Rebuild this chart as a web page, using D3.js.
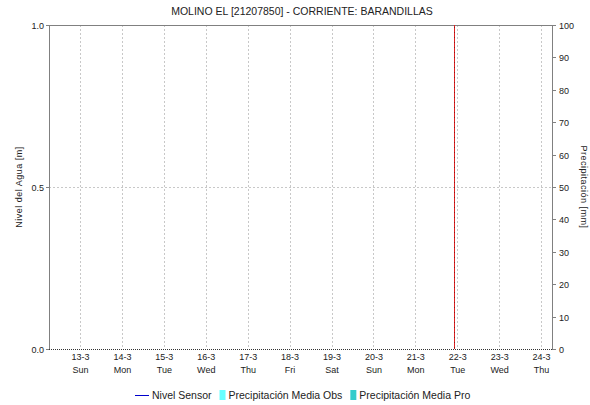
<!DOCTYPE html>
<html><head><meta charset="utf-8">
<script src="https://cdn.jsdelivr.net/npm/d3@7"></script>
<style>
body{margin:0;background:#fff;}
svg{display:block;font-family:"Liberation Sans",Arial,sans-serif;}
</style></head>
<body><svg id="c" width="590" height="405"></svg>
<script>
const title = "MOLINO EL [21207850] - CORRIENTE: BARANDILLAS";
const dayLabels = ["13-3","14-3","15-3","16-3","17-3","18-3","19-3","20-3","21-3","22-3","23-3","24-3"];
const weekdayLabels = ["Sun","Mon","Tue","Wed","Thu","Fri","Sat","Sun","Mon","Tue","Wed","Thu"];
const dayDates = ["2022-03-13","2022-03-14","2022-03-15","2022-03-16","2022-03-17","2022-03-18","2022-03-19","2022-03-20","2022-03-21","2022-03-22","2022-03-23","2022-03-24"];
const timeDomain = ["2022-03-12T06:15","2022-03-24T06:15"];
const nowMarker = "2022-03-21T22:00";
const levelTicks = [0, 0.5, 1.0];
const precipTicks = [0,10,20,30,40,50,60,70,80,90,100];
const nivelSensor = [];      // no data in chart
const precipObs = [];        // no data in chart
const precipPro = [];        // no data in chart
const legendItems = [
  {label:"Nivel Sensor", type:"line", color:"#0000cc"},
  {label:"Precipitación Media Obs", type:"box", color:"#66ffff"},
  {label:"Precipitación Media Pro", type:"box", color:"#33cccc"}
];

const svg = d3.select("#c");
const m = {l:49, r:552, t:25, b:349};
const parse = d3.timeParse("%Y-%m-%dT%H:%M");
const parseD = d3.timeParse("%Y-%m-%d");
const x = d3.scaleTime().domain(timeDomain.map(parse)).range([m.l, m.r]);
const yL = d3.scaleLinear().domain([0,1]).range([m.b, m.t]);
const yR = d3.scaleLinear().domain([0,100]).range([m.b, m.t]);

// vertical grid
svg.append("g").selectAll("line").data(dayDates).join("line")
  .attr("x1", d=>Math.round(x(parseD(d)))+0.5).attr("x2", d=>Math.round(x(parseD(d)))+0.5)
  .attr("y1", m.t).attr("y2", m.b)
  .attr("stroke", "#c8c8c8").attr("stroke-dasharray","2,2");
// horizontal grid at 0.5
svg.append("line").attr("x1", m.l).attr("x2", m.r)
  .attr("y1", Math.round(yL(0.5))+0.5).attr("y2", Math.round(yL(0.5))+0.5)
  .attr("stroke","#c8c8c8").attr("stroke-dasharray","2,2");

// frame
const frame = svg.append("g").attr("stroke","#808080").attr("fill","none");
frame.append("line").attr("x1",m.l+0.5).attr("x2",m.l+0.5).attr("y1",m.t).attr("y2",m.b+1);
frame.append("line").attr("x1",m.r+0.5).attr("x2",m.r+0.5).attr("y1",m.t).attr("y2",m.b+1);
frame.append("line").attr("x1",m.l).attr("x2",m.r+1).attr("y1",m.t+0.5).attr("y2",m.t+0.5);
// bottom dotted baseline
svg.append("line").attr("x1",m.l).attr("x2",m.r+1).attr("y1",m.b+0.5).attr("y2",m.b+0.5)
  .attr("stroke","#333").attr("stroke-dasharray","1,1");

// now marker
const nx = Math.round(x(parse(nowMarker)))+0.5;
svg.append("line").attr("x1",nx).attr("x2",nx).attr("y1",m.t).attr("y2",m.b)
  .attr("stroke","#e02020").attr("stroke-width",1);
svg.append("line").attr("x1",nx).attr("x2",nx).attr("y1",m.t+2).attr("y2",m.b)
  .attr("stroke","#802020").attr("stroke-width",1).attr("stroke-dasharray","1,4");

// data lines (empty)
svg.append("path").datum(nivelSensor).attr("fill","none").attr("stroke","#0000cc")
  .attr("d", d3.line().x(d=>x(parse(d[0]))).y(d=>yL(d[1])));

// left axis
const fs = "9px";
const gl = svg.append("g");
levelTicks.forEach(t=>{
  const yy = Math.round(yL(t))+0.5;
  gl.append("line").attr("x1",m.l-3).attr("x2",m.l).attr("y1",yy).attr("y2",yy).attr("stroke","#808080");
  gl.append("text").attr("x",m.l-5).attr("y",yy).attr("dy","0.35em").attr("text-anchor","end")
    .attr("font-size",fs).attr("fill","#222").text(d3.format(".1f")(t));
});
// right axis
precipTicks.forEach(t=>{
  const yy = Math.round(yR(t))+0.5;
  gl.append("line").attr("x1",m.r+1).attr("x2",m.r+4).attr("y1",yy).attr("y2",yy).attr("stroke","#808080");
  gl.append("text").attr("x",m.r+7).attr("y",yy).attr("dy","0.35em").attr("text-anchor","start")
    .attr("font-size",fs).attr("fill","#222").text(t);
});
// x axis labels
dayDates.forEach((d,i)=>{
  const xx = x(parseD(d))+0.5;
  gl.append("text").attr("x",xx).attr("y",360).attr("text-anchor","middle")
    .attr("font-size",fs).attr("fill","#222").text(dayLabels[i]);
  gl.append("text").attr("x",xx).attr("y",373).attr("text-anchor","middle")
    .attr("font-size",fs).attr("fill","#222").text(weekdayLabels[i]);
});

// axis titles
svg.append("text").attr("transform",`translate(22,${(m.t+m.b)/2}) rotate(-90)`)
  .attr("text-anchor","middle").attr("font-size",fs).attr("fill","#222")
  .attr("letter-spacing","0.5px").text("Nivel del Agua [m]");
svg.append("text").attr("transform",`translate(581,${(m.t+m.b)/2}) rotate(90)`)
  .attr("text-anchor","middle").attr("font-size",fs).attr("fill","#222")
  .attr("letter-spacing","0.5px").text("Precipitación [mm]");

// title
svg.append("text").attr("x",302).attr("y",15).attr("text-anchor","middle")
  .attr("font-size","10.5px").attr("fill","#222").text(title);

// legend
const lg = svg.append("g").attr("font-size","10.5px").attr("fill","#222");
let lx = 135; const ly = 395;
legendItems.forEach(it=>{
  if(it.type==="line"){
    lg.append("line").attr("x1",lx).attr("x2",lx+14).attr("y1",ly+0.5).attr("y2",ly+0.5).attr("stroke",it.color);
    lx += 17;
  } else {
    lg.append("rect").attr("x",lx).attr("y",ly-5).attr("width",6).attr("height",10).attr("fill",it.color);
    lx += 9;
  }
  const t = lg.append("text").attr("x",lx).attr("y",ly).attr("dy","0.35em").text(it.label);
  lx += t.node().getComputedTextLength() + 8;
});
</script></body></html>
